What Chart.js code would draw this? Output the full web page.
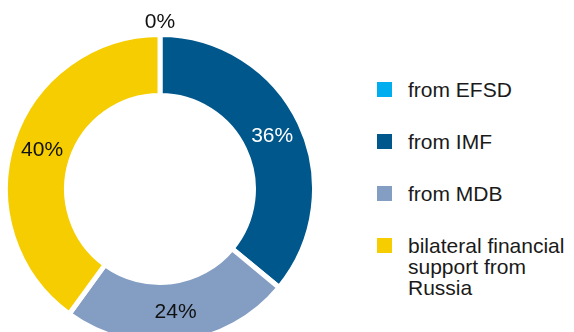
<!DOCTYPE html>
<html>
<head>
<meta charset="utf-8">
<script src="https://cdn.jsdelivr.net/npm/chart.js@4/dist/chart.umd.min.js"></script>
<style>
  html, body { margin: 0; padding: 0; background: #fff; }
  body { width: 574px; height: 332px; overflow: hidden; position: relative; font-family: "Liberation Sans", Arial, sans-serif; }
  #wrap { position: absolute; left: 0; top: 0; width: 320px; height: 378px; }
  #legend { position: absolute; left: 377px; top: 0; width: 197px; height: 332px; }
  .item { position: absolute; left: 0; display: flex; align-items: flex-start; }
  .sw { width: 15px; height: 15px; margin-top: 3px; flex: none; }
  .tx { margin-left: 16px; font-size: 21px; line-height: 21px; color: #1a1a1a; white-space: nowrap; }
</style>
</head>
<body>
<div id="wrap"><canvas id="c" width="320" height="378"></canvas></div>
<div id="legend"></div>
<script>
const categories = ['from EFSD', 'from IMF', 'from MDB', ['bilateral financial', 'support from', 'Russia']];
const shares = [0, 36, 24, 40];
const valueLabels = ['0%', '36%', '24%', '40%'];
const colors = ['#00AEEF', '#00578C', '#839DC3', '#F5CD00'];
const labelColors = ['#111111', '#ffffff', '#111111', '#111111'];

const legend = document.getElementById('legend');
categories.forEach((c, i) => {
  const it = document.createElement('div');
  it.className = 'item';
  it.style.top = (79 + 52 * i) + 'px';
  const sw = document.createElement('div');
  sw.className = 'sw';
  sw.style.background = colors[i];
  const tx = document.createElement('div');
  tx.className = 'tx';
  tx.innerHTML = (Array.isArray(c) ? c : [c]).join('<br>');
  it.appendChild(sw); it.appendChild(tx);
  legend.appendChild(it);
});

const labelPlugin = {
  id: 'sliceLabels',
  afterDatasetsDraw(chart) {
    const ctx = chart.ctx;
    const meta = chart.getDatasetMeta(0);
    ctx.save();
    ctx.font = '21px "Liberation Sans", Arial, sans-serif';
    ctx.textAlign = 'center';
    ctx.textBaseline = 'middle';
    meta.data.forEach((arc, i) => {
      const p = arc.getProps(['x', 'y', 'startAngle', 'endAngle', 'innerRadius', 'outerRadius'], true);
      const a = (p.startAngle + p.endAngle) / 2;
      let r = (p.innerRadius + p.outerRadius) / 2;
      if (p.endAngle - p.startAngle < 0.01) r = p.outerRadius + 12;
      ctx.fillStyle = labelColors[i];
      ctx.fillText(valueLabels[i], p.x + Math.cos(a) * r, p.y + Math.sin(a) * r);
    });
    ctx.restore();
  }
};

new Chart(document.getElementById('c'), {
  type: 'doughnut',
  data: {
    labels: categories,
    datasets: [{
      data: shares,
      backgroundColor: colors,
      borderColor: '#ffffff',
      borderWidth: 5
    }]
  },
  options: {
    responsive: false,
    animation: false,
    radius: 154.5,
    cutout: '60.5%',
    layout: { padding: 0 },
    plugins: { legend: { display: false }, tooltip: { enabled: false } }
  },
  plugins: [labelPlugin]
});
</script>
</body>
</html>
